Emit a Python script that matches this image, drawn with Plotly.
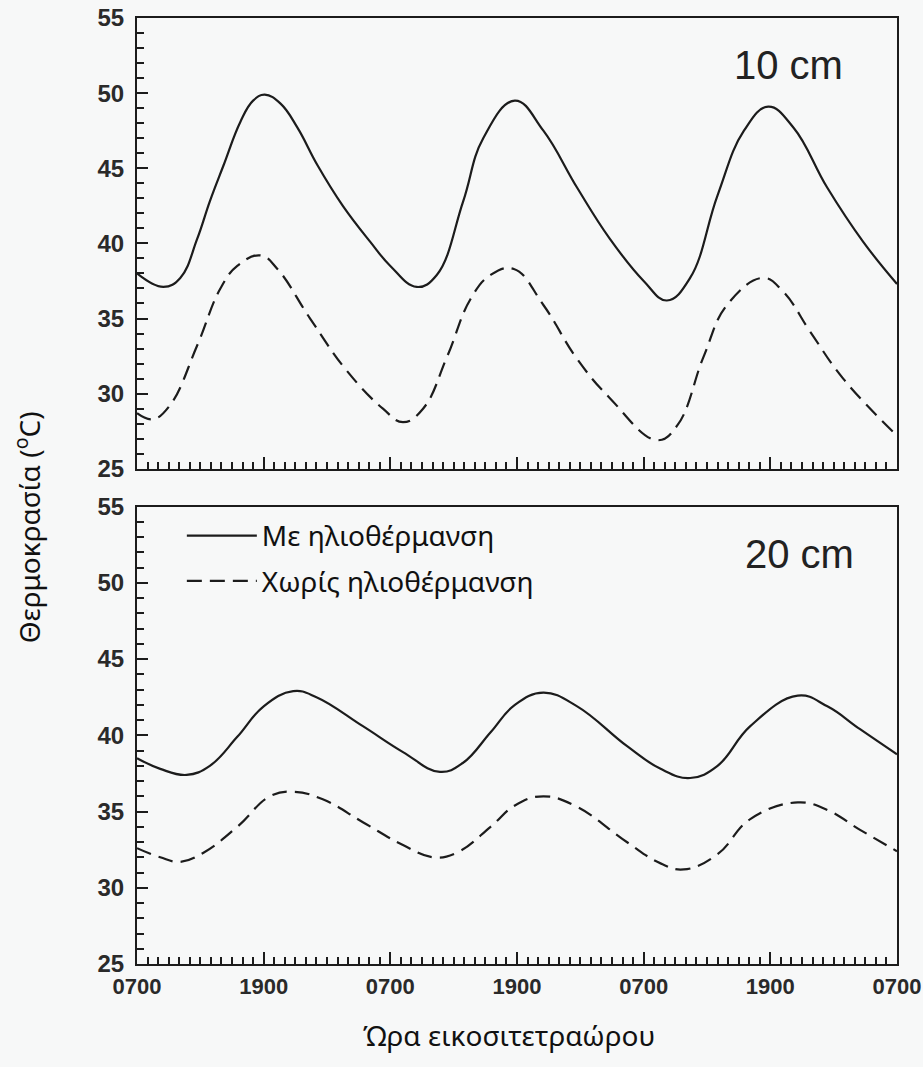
import plotly.graph_objects as go

# ---- data (hours since 07:00 of day 1) ----
t_top_solid = [0, 2.5, 4.1, 5.7, 6.9, 8.2, 9.8, 11, 12.1, 13.6, 15.2, 17.1, 19.5, 22.1, 24, 26.5, 28.4,
               30.9, 32.8, 35.8, 38.5, 41.7, 44.8, 48, 50.2, 52.4, 55, 57.5, 59.8, 62.2, 65.4, 68.8, 72]
v_top_solid = [38.0, 37.1, 37.7, 40.3, 42.8, 45.2, 48.1, 49.5, 49.9, 49.3, 47.7, 45.2, 42.5, 40.1, 38.5, 37.1, 37.9,
               42.8, 47.0, 49.5, 47.5, 43.7, 40.3, 37.5, 36.2, 37.7, 43.2, 47.5, 49.1, 47.7, 43.7, 40.1, 37.3]

t_top_dash = [0, 1.5, 3.1, 5.7, 7.9, 9.5, 11.7, 13.3, 16.4, 19.9, 23.3, 25.2, 27.1, 29.4, 31.6, 33.5, 35.7,
              38.5, 41.7, 44.8, 49.3, 51.2, 53.7, 55.9, 59.3, 61.2, 63.8, 66.9, 72]
v_top_dash = [28.7, 28.3, 29.2, 33.2, 37.0, 38.5, 39.2, 38.3, 35.0, 31.5, 29.0, 28.1, 29.0, 32.5, 36.3, 37.9, 38.3,
              35.9, 32.3, 29.7, 26.9, 27.9, 32.5, 35.9, 37.7, 36.8, 34.1, 31.0, 27.2]

t_bot_solid = [0, 2.2, 4.7, 6.9, 9.5, 12, 14.8, 17, 21.4, 25.2, 28.7, 30.9, 33.5, 35.8,
               38.5, 41.7, 46.4, 49.6, 52.4, 55, 58.1, 62.6, 65.4, 68.5, 72]
v_bot_solid = [38.5, 37.8, 37.4, 38.0, 39.9, 41.9, 42.9, 42.5, 40.6, 38.9, 37.6, 38.2, 40.2, 42.0,
               42.8, 41.9, 39.3, 37.8, 37.2, 38.0, 40.6, 42.6, 41.9, 40.4, 38.75]

t_bot_dash = [0, 2.2, 4.1, 6.3, 9.5, 12.6, 14.8, 17.6, 21.4, 25.2, 28.1, 30.3, 33.5, 35.8,
              38.5, 41.7, 46.4, 49.6, 51.8, 55, 58.1, 62.6, 65.4, 68.5, 72]
v_bot_dash = [32.6, 32.0, 31.7, 32.3, 34.0, 36.0, 36.3, 35.8, 34.3, 32.8, 32.0, 32.3, 34.0, 35.4,
              36.0, 35.3, 33.0, 31.6, 31.2, 32.2, 34.5, 35.6, 35.1, 33.8, 32.4]

tick_hours = [0, 12, 24, 36, 48, 60, 72]
tick_text = ["0700", "1900", "0700", "1900", "0700", "1900", "0700"]
series_names = ["Με ηλιοθέρμανση", "Χωρίς ηλιοθέρμανση"]
panel_labels = ["10 cm", "20 cm"]

INK = "#1c1c1c"
BG = "#f7f8f8"
DASH = "15px,8px"
SM = 1.2

fig = go.Figure()
fig.add_trace(go.Scatter(x=t_top_solid, y=v_top_solid, mode="lines",
                         line=dict(color=INK, width=2.2, shape="spline", smoothing=SM),
                         xaxis="x", yaxis="y", showlegend=False))
fig.add_trace(go.Scatter(x=t_top_dash, y=v_top_dash, mode="lines",
                         line=dict(color=INK, width=2.2, dash=DASH, shape="spline", smoothing=SM),
                         xaxis="x", yaxis="y", showlegend=False))
fig.add_trace(go.Scatter(x=t_bot_solid, y=v_bot_solid, mode="lines", name=series_names[0], legendgroup="a",
                         line=dict(color=INK, width=2.2, shape="spline", smoothing=SM), xaxis="x2", yaxis="y2"))
fig.add_trace(go.Scatter(x=t_bot_dash, y=v_bot_dash, mode="lines", name=series_names[1], legendgroup="b",
                         line=dict(color=INK, width=2.2, dash=DASH, shape="spline", smoothing=SM), xaxis="x2", yaxis="y2"))

xtickfont = dict(family="Liberation Sans, Arial", size=22, color="#2a2a2a", weight="bold")
ytickfont = dict(family="Liberation Sans, Arial", size=24, color="#2a2a2a", weight="bold")

xcommon = dict(range=[0, 72], tickmode="array", tickvals=tick_hours, ticktext=tick_text, automargin=False,
               showline=True, linecolor=INK, linewidth=2, mirror=True, ticks="inside", ticklen=12,
               tickwidth=2, tickcolor=INK, showgrid=False, zeroline=False, tickfont=xtickfont,
               minor=dict(dtick=1, tick0=0, ticks="inside", ticklen=7, tickwidth=1.5, tickcolor=INK))
ycommon = dict(range=[25, 55], dtick=5, tick0=25, showline=True, linecolor=INK, linewidth=2, mirror=True,
               ticks="inside", ticklen=11, tickwidth=2, tickcolor=INK, showgrid=False, zeroline=False,
               tickfont=ytickfont, ticklabelstandoff=6, automargin=False,
               minor=dict(dtick=1, ticks="inside", ticklen=7, tickwidth=1.5, tickcolor=INK))

fig.update_layout(
    width=923, height=1067,
    margin=dict(l=137, r=26, t=18, b=103, autoexpand=False),
    paper_bgcolor=BG, plot_bgcolor=BG,
    xaxis=dict(xcommon, domain=[0, 1], anchor="y", showticklabels=False),
    yaxis=dict(ycommon, domain=[0.5235, 1.0], anchor="x"),
    xaxis2=dict(xcommon, domain=[0, 1], anchor="y2", ticklabelstandoff=2),
    yaxis2=dict(ycommon, domain=[0, 0.4835], anchor="x2"),
    legend=dict(x=0.059, y=0.479, xanchor="left", yanchor="top", bgcolor="rgba(0,0,0,0)",
                font=dict(family="Noto Sans", size=28, color="#111"), tracegroupgap=6,
                itemwidth=70),
    showlegend=True,
)

fig.add_annotation(x=0.857, y=0.95, xref="paper", yref="paper", text=panel_labels[0], showarrow=False,
                   font=dict(family="Liberation Sans, Arial", size=40, color="#222"), xanchor="center", yanchor="middle")
fig.add_annotation(x=0.872, y=0.433, xref="paper", yref="paper", text=panel_labels[1], showarrow=False,
                   font=dict(family="Liberation Sans, Arial", size=40, color="#222"), xanchor="center", yanchor="middle")
fig.add_annotation(x=-0.143, y=0.462, xref="paper", yref="paper", text="Θερμοκρασία (<sup>o</sup>C)",
                   textangle=-90, showarrow=False, font=dict(family="Noto Sans", size=28, color="#111"),
                   xanchor="center", yanchor="middle")
fig.add_annotation(x=0.49, y=-0.075, xref="paper", yref="paper", text="Ώρα εικοσιτετραώρου",
                   showarrow=False, font=dict(family="Noto Sans", size=28, color="#111"),
                   xanchor="center", yanchor="middle")

fig.write_html("out.html")
